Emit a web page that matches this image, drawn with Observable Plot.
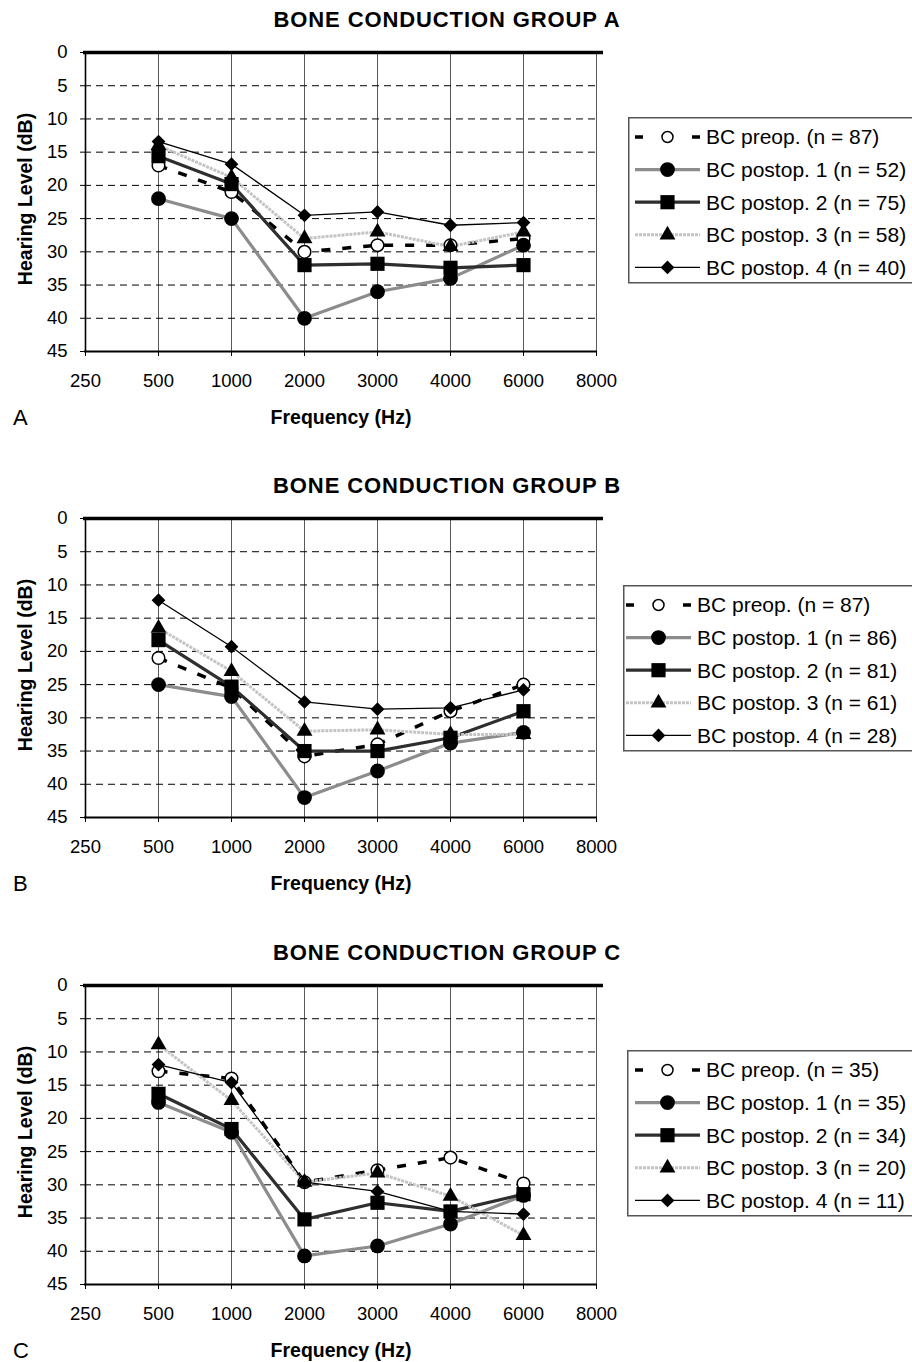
<!DOCTYPE html>
<html>
<head>
<meta charset="utf-8">
<script src="https://cdn.jsdelivr.net/npm/d3@7"></script>
<script src="https://cdn.jsdelivr.net/npm/@observablehq/plot@0.6"></script>
<style>
  html, body { margin: 0; padding: 0; background: #fff; }
  body { width: 912px; height: 1362px; overflow: hidden; font-family: "Liberation Sans", Arial, sans-serif; color: #000; }
  .panel { position: relative; width: 912px; overflow: hidden; }
  .panel svg.plotsvg { position: absolute; left: 0; top: 0; }
  .title { position: absolute; left: 447px; top: 8px; transform: translateX(-50%); white-space: nowrap;
           font-weight: bold; font-size: 22px; letter-spacing: 0.9px; line-height: 24px; }
  .letter { position: absolute; left: 13px; top: 405px; font-size: 22px; line-height: 26px; }
  .legend { position: absolute; }
</style>
</head>
<body>
<div id="root"></div>
<script>
// ---------- data ----------
const frequencies = ["250", "500", "1000", "2000", "3000", "4000", "6000", "8000"];
const measuredFreqs = ["500", "1000", "2000", "3000", "4000", "6000"];
const yTicks = [0, 5, 10, 15, 20, 25, 30, 35, 40, 45];
const dashedGrid = [5, 10, 15, 20, 25, 30, 35, 40];
const seriesNames = ["BC preop.", "BC postop. 1", "BC postop. 2", "BC postop. 3", "BC postop. 4"];
const panelTitles = ["BONE CONDUCTION GROUP A", "BONE CONDUCTION GROUP B", "BONE CONDUCTION GROUP C"];
const panelLetters = ["A", "B", "C"];

// group sizes (n) per series
const nA = [87, 52, 75, 58, 40];
const nB = [87, 86, 81, 61, 28];
const nC = [35, 35, 34, 20, 11];

// Group A hearing levels (dB) at 500..6000 Hz
const groupA_preop  = [17, 21, 30, 29, 29, 28];
const groupA_post1  = [22, 25, 40, 36, 34, 29];
const groupA_post2  = [15.6, 19.8, 32, 31.8, 32.4, 32];
const groupA_post3  = [14, 18.8, 28, 27, 29.2, 27];
const groupA_post4  = [13.4, 16.8, 24.5, 24, 26, 25.6];

// Group B
const groupB_preop  = [21, 25.5, 35.8, 34, 29, 25];
const groupB_post1  = [25, 26.8, 42, 38, 33.8, 32.2];
const groupB_post2  = [18.3, 25.3, 35, 35, 33, 29];
const groupB_post3  = [16.5, 23, 32, 31.8, 32.5, 32.5];
const groupB_post4  = [12.3, 19.3, 27.6, 28.7, 28.5, 25.8];

// Group C
const groupC_preop  = [12.9, 14, 29.6, 27.8, 25.9, 29.8];
const groupC_post1  = [17.6, 22.1, 40.7, 39.2, 35.9, 31.6];
const groupC_post2  = [16.3, 21.6, 35.2, 32.7, 34, 31.4];
const groupC_post3  = [8.9, 17.3, 29.6, 28.2, 31.7, 37.6];
const groupC_post4  = [11.9, 14.6, 29.6, 31, 34, 34.4];

const groups = [
  [groupA_preop, groupA_post1, groupA_post2, groupA_post3, groupA_post4],
  [groupB_preop, groupB_post1, groupB_post2, groupB_post3, groupB_post4],
  [groupC_preop, groupC_post1, groupC_post2, groupC_post3, groupC_post4]
];
const groupNs = [nA, nB, nC];

// ---------- styles ----------
const FONT = '"Liberation Sans", Arial, sans-serif';
const styles = [
  {stroke: "#000", strokeWidth: 3.5, dash: "9,12", symbol: "circle", r: 6.3, fill: "#fff", dotStroke: "#000", dotStrokeWidth: 1.5},
  {stroke: "#8c8c8c", strokeWidth: 3.2, dash: null, symbol: "circle", r: 7.4, fill: "#000", dotStroke: "none", dotStrokeWidth: 0},
  {stroke: "#2e2e2e", strokeWidth: 3.2, dash: null, symbol: "square", r: 8, fill: "#000", dotStroke: "none", dotStrokeWidth: 0},
  {stroke: "#c4c4c4", strokeWidth: 3, dash: "3,1", symbol: "triangle", r: 5.9, fill: "#000", dotStroke: "none", dotStrokeWidth: 0},
  {stroke: "#000", strokeWidth: 1.3, dash: null, symbol: "diamond2", r: 6.2, fill: "#000", dotStroke: "none", dotStrokeWidth: 0}
];
const d3Symbols = {circle: d3.symbolCircle, square: d3.symbolSquare, triangle: d3.symbolTriangle, diamond2: d3.symbolDiamond2};

const panelHeights = [466, 467, 429];
const legendPos = [{left: 628, top: 117}, {left: 623, top: 119}, {left: 627, top: 117}];
const legendTextX = [78, 74, 79];

const root = document.getElementById("root");

groups.forEach((series, gi) => {
  const panel = document.createElement("div");
  panel.className = "panel";
  panel.style.height = panelHeights[gi] + "px";
  root.appendChild(panel);

  const rows = series.map((vals, si) => measuredFreqs.map((f, i) => ({freq: f, hl: vals[i], series: seriesNames[si]})));

  const seriesMarks = [];
  rows.forEach((r, si) => {
    const s = styles[si];
    seriesMarks.push(Plot.line(r, {x: "freq", y: "hl", stroke: s.stroke, strokeWidth: s.strokeWidth,
      strokeDasharray: s.dash || undefined, strokeLinecap: "butt"}));
  });
  rows.forEach((r, si) => {
    const s = styles[si];
    seriesMarks.push(Plot.dot(r, {x: "freq", y: "hl", symbol: s.symbol, r: s.r, fill: s.fill,
      stroke: s.dotStroke, strokeWidth: s.dotStrokeWidth}));
  });

  const chart = Plot.plot({
    width: 912,
    height: 466,
    marginTop: 52,
    marginBottom: 115,
    marginLeft: 84,
    marginRight: 315,
    x: {type: "point", domain: frequencies, padding: 0},
    y: {domain: [0, 45], reverse: true},
    style: {fontFamily: FONT, fontSize: "18px", color: "#000", background: "transparent", overflow: "visible"},
    marks: [
      Plot.ruleX(frequencies, {x: d => d, stroke: "#5a5a5a", strokeWidth: 1}),
      Plot.ruleY(dashedGrid, {y: d => d, stroke: "#000", strokeWidth: 1, strokeDasharray: "7,5"}),
      Plot.ruleX([frequencies[0]], {x: d => d, stroke: "#000", strokeWidth: 1.6}),
      Plot.ruleY([45], {y: d => d, stroke: "#000", strokeWidth: 2}),
      Plot.ruleY([0], {y: d => d, stroke: "#000", strokeWidth: 3.5, insetRight: -6, insetLeft: -1}),
      Plot.axisX({tickSize: 5, tickPadding: 17, fontSize: 18.5, label: null, stroke: "#000"}),
      Plot.axisY(yTicks, {tickSize: 4, tickPadding: 13, fontSize: 18.5, label: null, stroke: "#000"}),
      Plot.text(["Frequency (Hz)"], {frameAnchor: "bottom", textAnchor: "middle", lineAnchor: "middle", dy: 66,
        fontWeight: "bold", fontSize: 19.5, fill: "#000"}),
      Plot.text(["Hearing Level (dB)"], {frameAnchor: "left", textAnchor: "middle", lineAnchor: "middle", dx: -59, dy: -3,
        rotate: -90, fontWeight: "bold", fontSize: 19.5, fill: "#000"}),
      ...seriesMarks
    ]
  });
  chart.classList.add("plotsvg");
  panel.appendChild(chart);

  const title = document.createElement("div");
  title.className = "title";
  title.textContent = panelTitles[gi];
  panel.appendChild(title);

  const letter = document.createElement("div");
  letter.className = "letter";
  letter.textContent = panelLetters[gi];
  panel.appendChild(letter);

  // legend
  const lp = legendPos[gi];
  const rowH = 32.6;
  const lg = d3.create("svg")
    .attr("class", "legend")
    .attr("width", 912 - lp.left + 10)
    .attr("height", 172)
    .style("left", lp.left + "px")
    .style("top", lp.top + "px");
  lg.append("rect").attr("x", 0.75).attr("y", 0.75).attr("width", 400).attr("height", 165)
    .attr("fill", "#fff").attr("stroke", "#555").attr("stroke-width", 1.5);
  seriesNames.forEach((name, si) => {
    const s = styles[si];
    const cy = 20 + si * rowH;
    const lx0 = legendTextX[gi] - 71, lx1 = legendTextX[gi] - 6, mx = (lx0 + lx1) / 2;
    lg.append("line").attr("x1", lx0).attr("x2", lx1).attr("y1", cy).attr("y2", cy)
      .attr("stroke", s.stroke).attr("stroke-width", s.strokeWidth)
      .attr("stroke-dasharray", si === 0 ? "8,49" : s.dash);
    const rr = si === 0 ? 5.5 : s.r;
    lg.append("path")
      .attr("transform", `translate(${mx},${cy})`)
      .attr("d", d3.symbol(d3Symbols[s.symbol], rr * rr * Math.PI)())
      .attr("fill", s.fill).attr("stroke", s.dotStroke).attr("stroke-width", s.dotStrokeWidth);
    lg.append("text").attr("x", legendTextX[gi]).attr("y", cy).attr("dy", "0.35em")
      .attr("font-family", FONT).attr("font-size", 21).attr("fill", "#000")
      .text(`${name} (n = ${groupNs[gi][si]})`);
  });
  panel.appendChild(lg.node());
});
</script>
</body>
</html>
